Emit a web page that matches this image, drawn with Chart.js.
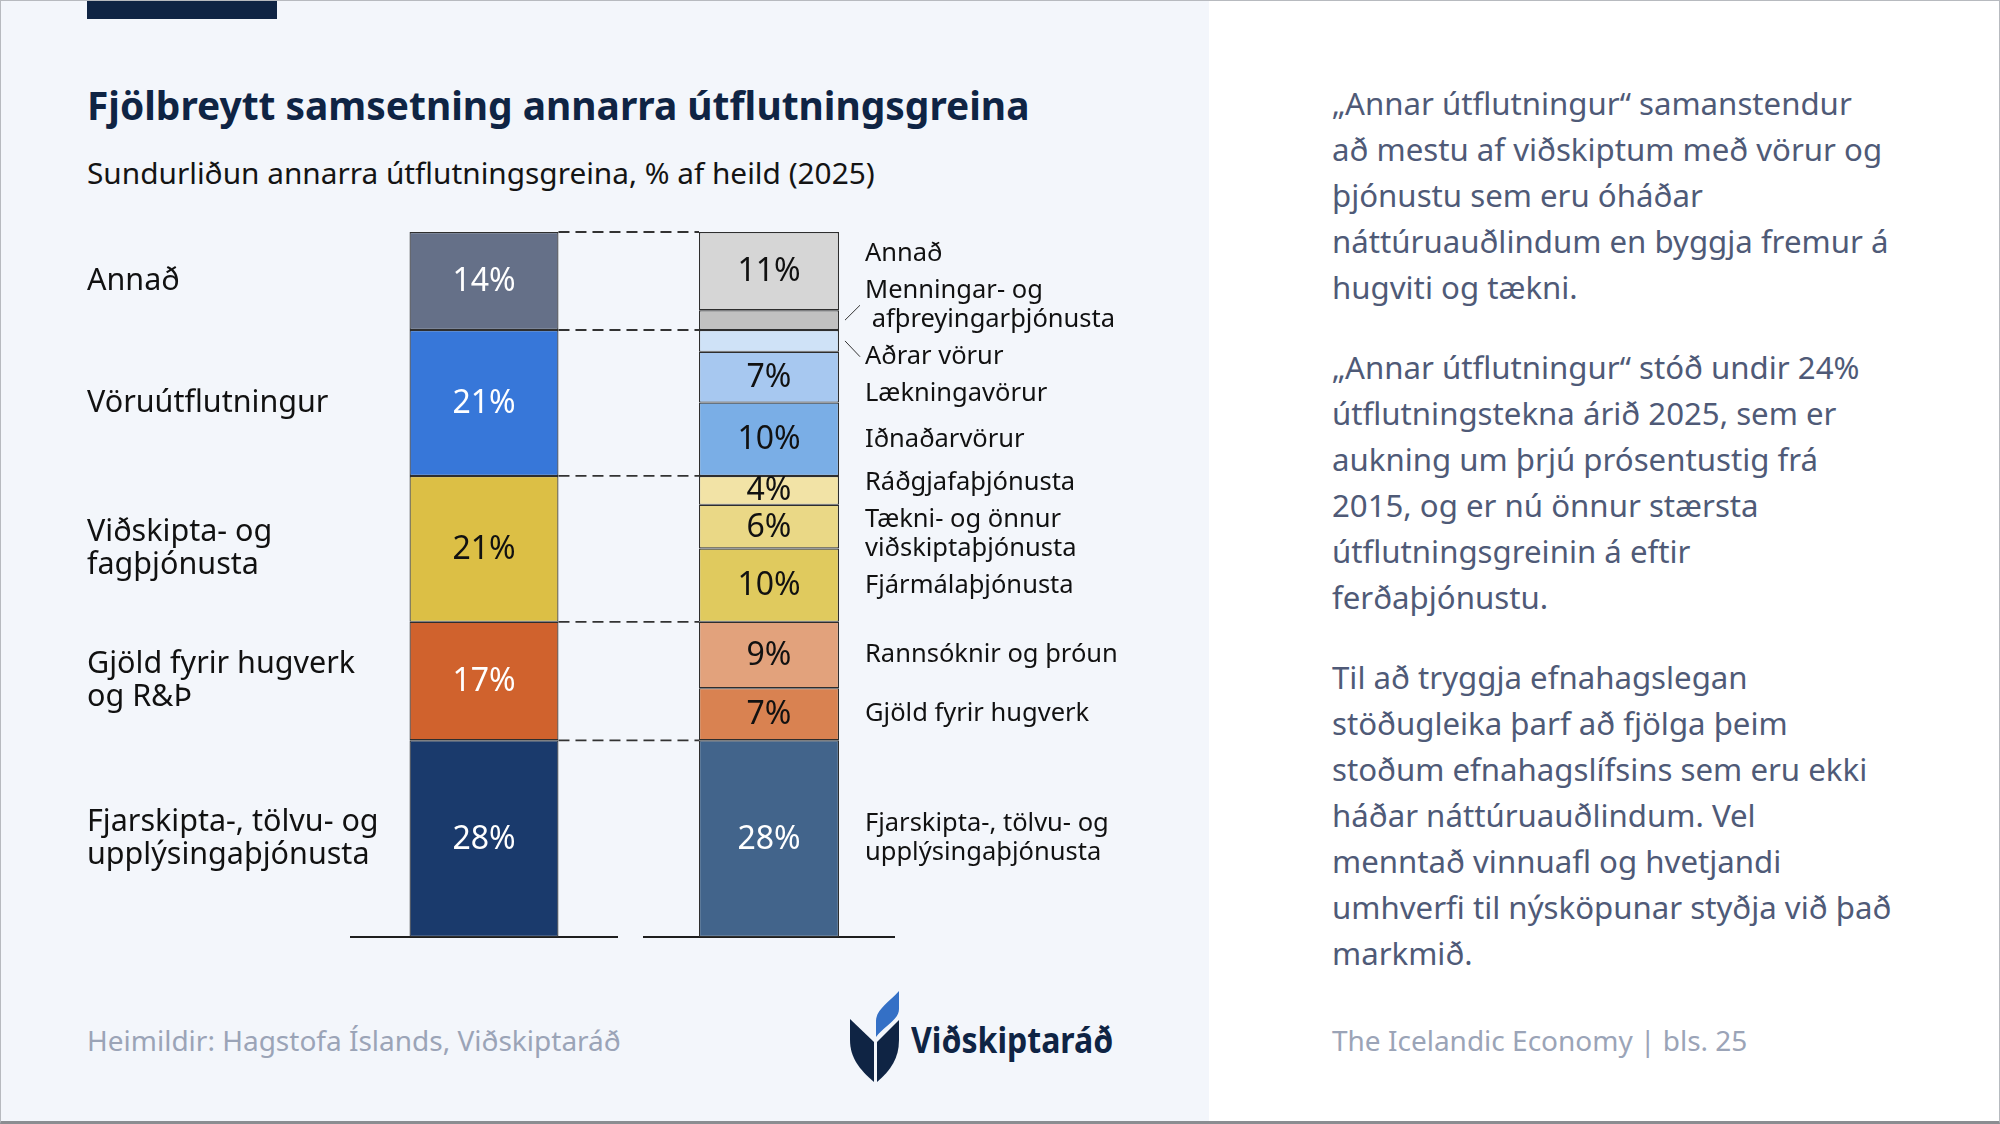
<!DOCTYPE html>
<html>
<head>
<meta charset="utf-8">
<script src="https://cdn.jsdelivr.net/npm/chart.js@4.4.1/dist/chart.umd.min.js"></script>
<style>
  html, body { margin: 0; padding: 0; }
  body { width: 2000px; height: 1124px; position: relative; overflow: hidden; background: #fff; font-family: "Noto Sans", sans-serif; }
  #leftPanel { position: absolute; left: 0; top: 0; width: 1209px; height: 1124px; background: #f3f6fb; }
  #frame { position: absolute; left: 0; top: 0; width: 1998px; height: 1120px; border: 1px solid #b7babf; border-bottom: 3px solid #8b8d91; pointer-events: none; }
  .topbar { position: absolute; left: 87px; top: 0; width: 190px; height: 19px; background: #0f2444; }
  h1 { position: absolute; left: 87px; top: 78px; margin: 0; font-size: 38.9px; line-height: 54px; font-weight: 700; color: #0f2444; white-space: nowrap; }
  .sub { position: absolute; left: 87px; top: 153px; font-size: 29.8px; line-height: 40px; color: #141414; white-space: nowrap; }
  .cw { position: absolute; left: 0; top: 200px; width: 1209px; height: 780px; }
  .para { position: absolute; left: 1332px; top: 80px; font-size: 31.2px; line-height: 46px; color: #4f5a77; white-space: nowrap; }
  .para p { margin: 0 0 34px 0; }
  .foot { position: absolute; top: 1020px; font-size: 28px; line-height: 40px; color: #9ba4b7; white-space: nowrap; }
  .logo { position: absolute; left: 848px; top: 990px; }
  .logoText { position: absolute; left: 911px; top: 1015px; font-size: 36px; line-height: 50px; font-weight: 700; color: #0f2444; white-space: nowrap; transform: scaleX(0.89); transform-origin: left center; }
</style>
</head>
<body>
<div id="leftPanel"></div>
<div class="topbar"></div>
<h1>Fjölbreytt samsetning annarra útflutningsgreina</h1>
<div class="sub">Sundurliðun annarra útflutningsgreina, % af heild (2025)</div>

<div class="cw"><canvas id="groupChart"></canvas></div>
<div class="cw"><canvas id="detailChart"></canvas></div>

<div class="para">
  <p>„Annar útflutningur“ samanstendur<br>að mestu af viðskiptum með vörur og<br>þjónustu sem eru óháðar<br>náttúruauðlindum en byggja fremur á<br>hugviti og tækni.</p>
  <p>„Annar útflutningur“ stóð undir 24%<br>útflutningstekna árið 2025, sem er<br>aukning um þrjú prósentustig frá<br>2015, og er nú önnur stærsta<br>útflutningsgreinin á eftir<br>ferðaþjónustu.</p>
  <p>Til að tryggja efnahagslegan<br>stöðugleika þarf að fjölga þeim<br>stoðum efnahagslífsins sem eru ekki<br>háðar náttúruauðlindum. Vel<br>menntað vinnuafl og hvetjandi<br>umhverfi til nýsköpunar styðja við það<br>markmið.</p>
</div>

<div class="foot" style="left:87px">Heimildir: Hagstofa Íslands, Viðskiptaráð</div>
<div class="foot" style="left:1332px">The Icelandic Economy | bls. 25</div>

<svg class="logo" width="54" height="94" viewBox="0 0 54 94">
  <path d="M2,29 L26,52 L26,92 C12,80 2,68 2,50 Z" fill="#0f2444"/>
  <path d="M51,30 L29,52 L29,92 C43,80 51,68 51,50 Z" fill="#0f2444"/>
  <path d="M28,47 L28,31 C28,20 40,13 51,1 L51,19 C51,30 36,36 28,47 Z" fill="#3470c6"/>
</svg>
<div class="logoText">Viðskiptaráð</div>
<div id="frame"></div>

<script>
// groups, top to bottom
const groupLabels = ['Annað', 'Vöruútflutningur', 'Viðskipta- og\nfagþjónusta', 'Gjöld fyrir hugverk\nog R&Þ', 'Fjarskipta-, tölvu- og\nupplýsingaþjónusta'];
const groupValues = [13.9, 20.7, 20.7, 16.8, 27.9];
const groupColors = ['#657088', '#3777d9', '#dcbf45', '#d0622d', '#1a3a6c'];

// breakdown, top to bottom
const detailLabels = ['Annað', 'Menningar- og\n afþreyingarþjónusta', 'Aðrar vörur', 'Lækningavörur', 'Iðnaðarvörur',
  'Ráðgjafaþjónusta', 'Tækni- og önnur\nviðskiptaþjónusta', 'Fjármálaþjónusta',
  'Rannsóknir og þróun', 'Gjöld fyrir hugverk', 'Fjarskipta-, tölvu- og\nupplýsingaþjónusta'];
const detailValues = [11.1, 2.8, 3.1, 7.2, 10.4, 4.1, 6.2, 10.4, 9.4, 7.4, 27.9];
const detailColors = ['#d6d6d6', '#c1c1c1', '#cfe2f7', '#a7c8f0', '#7aaee6', '#f2e3a6', '#ead886', '#e0ca5e', '#e2a27c', '#d98251', '#42648b'];

const FONT = '"Noto Sans", sans-serif';

function isDark(hex) {
  const r = parseInt(hex.substr(1, 2), 16), g = parseInt(hex.substr(3, 2), 16), b = parseInt(hex.substr(5, 2), 16);
  return (0.2126 * r + 0.7152 * g + 0.0722 * b) / 255 < 0.52;
}

// stacked bars are drawn bottom-up, so reverse the top-to-bottom lists
function makeDatasets(labels, values, colors) {
  return labels.map((l, i) => ({
    label: l,
    data: [values[i]],
    backgroundColor: colors[i],
    borderColor: '#2e2e2e',
    borderWidth: 1.2,
    borderSkipped: false,
    stack: 's'
  })).reverse();
}

function drawLines(ctx, lines, x, midY, lh) {
  const y0 = midY - (lines.length - 1) * lh / 2;
  lines.forEach((t, k) => ctx.fillText(t, x, y0 + k * lh));
}

function baseOptions(pad) {
  return {
    responsive: true,
    maintainAspectRatio: false,
    animation: false,
    layout: { padding: pad },
    plugins: { legend: { display: false }, tooltip: { enabled: false } },
    datasets: { bar: { categoryPercentage: 1, barPercentage: 0.56 } },
    scales: {
      x: { stacked: true, grid: { display: false, drawTicks: false }, ticks: { display: false },
           border: { display: true, color: '#1e1e1e', width: 2 } },
      y: { stacked: true, display: false, min: 0, max: 100 }
    }
  };
}

// value text inside each segment
function drawValues(chart, minShow) {
  const ctx = chart.ctx;
  ctx.save();
  ctx.font = '32px ' + FONT;
  ctx.textAlign = 'center';
  ctx.textBaseline = 'middle';
  chart.data.datasets.forEach((ds, i) => {
    const v = ds.data[0];
    if (v < minShow) return;
    const bar = chart.getDatasetMeta(i).data[0];
    ctx.fillStyle = isDark(ds.backgroundColor) ? '#ffffff' : '#111111';
    ctx.fillText(Math.round(v) + '%', bar.x, (bar.y + bar.base) / 2 + 1);
  });
  ctx.restore();
}

const groupPlugin = {
  id: 'groupLabels',
  afterDatasetsDraw(chart) {
    drawValues(chart, 0);
    const ctx = chart.ctx;
    ctx.save();
    ctx.font = '30.5px ' + FONT;
    ctx.fillStyle = '#111111';
    ctx.textAlign = 'left';
    ctx.textBaseline = 'middle';
    chart.data.datasets.forEach((ds, i) => {
      const bar = chart.getDatasetMeta(i).data[0];
      drawLines(ctx, ds.label.split('\n'), 87, (bar.y + bar.base) / 2, 33);
    });
    ctx.restore();
  }
};

const groupChart = new Chart(document.getElementById('groupChart'), {
  type: 'bar',
  data: { labels: ['Annar útflutningur'], datasets: makeDatasets(groupLabels, groupValues, groupColors) },
  options: baseOptions({ left: 351, right: 592, top: 32, bottom: 43 }),
  plugins: [groupPlugin]
});

const detailPlugin = {
  id: 'detailLabels',
  afterDatasetsDraw(chart) {
    const ctx = chart.ctx;
    const MIN_SHOW = 4;
    drawValues(chart, MIN_SHOW);

    // dashed connectors at the top of every group segment
    const gMeta = groupChart.data.datasets.map((d, i) => groupChart.getDatasetMeta(i).data[0]);
    const firstBar = chart.getDatasetMeta(0).data[0];
    ctx.save();
    ctx.strokeStyle = '#333333';
    ctx.lineWidth = 1.8;
    ctx.setLineDash([11, 6]);
    gMeta.forEach(b => {
      ctx.beginPath();
      ctx.moveTo(b.x + b.width / 2, b.y);
      ctx.lineTo(firstBar.x - firstBar.width / 2, b.y);
      ctx.stroke();
    });
    ctx.restore();

    // label layout: top to bottom, spread overlapping labels around their mean
    const LH = 29, GAP = 8;
    const n = chart.data.datasets.length;
    const items = [];
    for (let i = n - 1; i >= 0; i--) {
      const ds = chart.data.datasets[i];
      const bar = chart.getDatasetMeta(i).data[0];
      const lines = ds.label.split('\n');
      items.push({ ds, bar, lines, h: lines.length * LH, want: (bar.y + bar.base) / 2 });
    }
    let clusters = items.map(it => ({ items: [it] }));
    const place = c => {
      let off = 0; const offs = [];
      c.items.forEach((it, k) => {
        if (k > 0) off += (c.items[k - 1].h + it.h) / 2 + GAP;
        offs.push(off);
      });
      const meanWant = c.items.reduce((s, it) => s + it.want, 0) / c.items.length;
      const meanOff = offs.reduce((s, o) => s + o, 0) / offs.length;
      c.items.forEach((it, k) => { it.y = meanWant - meanOff + offs[k]; });
    };
    clusters.forEach(place);
    let merged = true;
    while (merged) {
      merged = false;
      for (let k = 0; k < clusters.length - 1; k++) {
        const a = clusters[k].items[clusters[k].items.length - 1], b = clusters[k + 1].items[0];
        if (b.y - a.y < (a.h + b.h) / 2 + GAP) {
          clusters[k].items = clusters[k].items.concat(clusters[k + 1].items);
          clusters.splice(k + 1, 1);
          place(clusters[k]);
          merged = true;
          break;
        }
      }
    }

    ctx.save();
    ctx.font = '25.5px ' + FONT;
    ctx.fillStyle = '#111111';
    ctx.textAlign = 'left';
    ctx.textBaseline = 'middle';
    items.forEach(it => {
      const right = it.bar.x + it.bar.width / 2;
      const tx = right + 26;
      drawLines(ctx, it.lines, tx, it.y, LH);
      if (it.ds.data[0] < MIN_SHOW) {
        ctx.save();
        ctx.strokeStyle = '#333333';
        ctx.lineWidth = 1;
        ctx.beginPath();
        ctx.moveTo(right + 6, it.want);
        ctx.lineTo(tx - 5, it.y);
        ctx.stroke();
        ctx.restore();
      }
    });
    ctx.restore();
  }
};

new Chart(document.getElementById('detailChart'), {
  type: 'bar',
  data: { labels: ['Sundurliðun'], datasets: makeDatasets(detailLabels, detailValues, detailColors) },
  options: baseOptions({ left: 644, right: 315, top: 32, bottom: 43 }),
  plugins: [detailPlugin]
});
</script>
</body>
</html>
